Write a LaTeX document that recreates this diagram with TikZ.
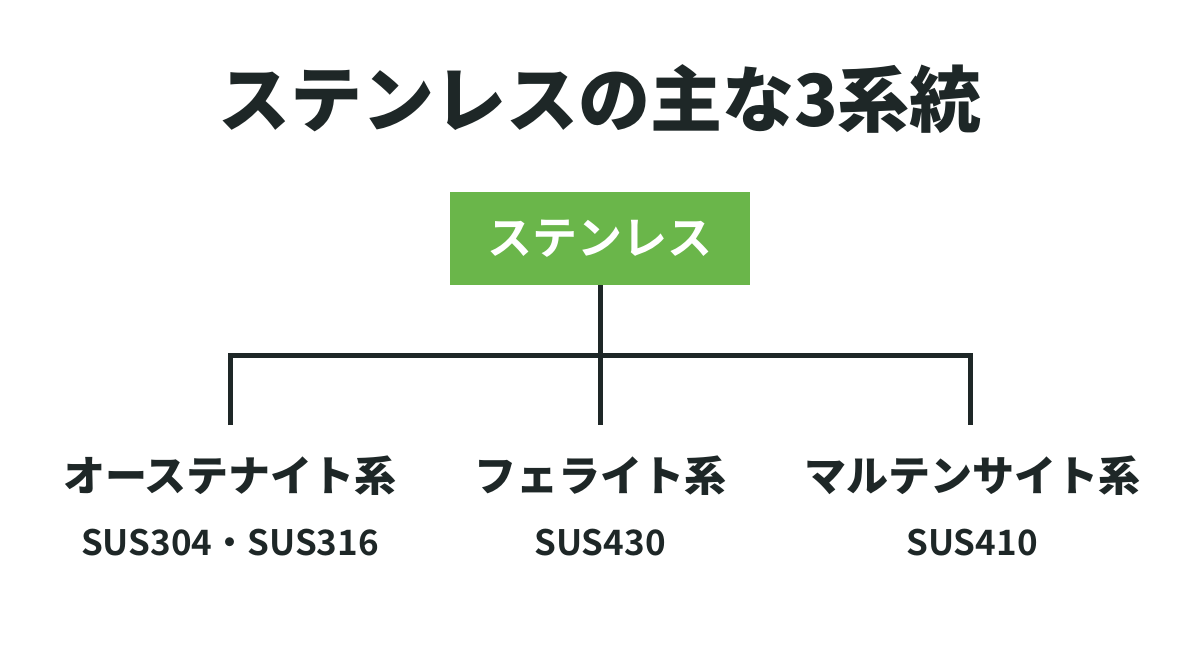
\documentclass[tikz,border=0pt]{standalone}
\usepackage{fontspec}
\setmainfont{Noto Sans CJK JP}[BoldFont={* Bold}]
\newfontfamily\jpb{Noto Sans CJK JP Black}
\newfontfamily\jpm{Noto Sans CJK JP Bold}
\definecolor{boxgreen}{HTML}{6AB64A}
\definecolor{ink}{HTML}{1E2727}
\begin{document}
\begin{tikzpicture}[x=1pt,y=-1pt,
  title/.style={font=\jpb\fontsize{72}{80}\selectfont, text=ink, inner sep=0pt},
  rootbox/.style={fill=boxgreen, minimum width=300pt, minimum height=93pt, inner sep=0pt, text=white, font=\jpm\fontsize{45}{50}\selectfont},
  catlabel/.style={font=\jpb\fontsize{42}{48}\selectfont, text=ink, inner sep=0pt},
  sublabel/.style={font=\jpm\fontsize{35}{42}\selectfont, text=ink, inner sep=0pt},
  conn/.style={draw=ink, line width=5pt}]
\useasboundingbox (0,0) rectangle (1200,669);
\fill[white] (0,0) rectangle (1200,669);
\node[title] (t) at (600,99) {ステンレスの主な3系統};
\node[rootbox] (root) at (600,238.5) {ステンレス};
\coordinate (j) at (600,355);
\coordinate (jl) at (230,355);
\coordinate (jr) at (970,355);
\coordinate (el) at (230,425);
\coordinate (em) at (600,425);
\coordinate (er) at (970,425);
\node[catlabel] (a) at (230,476) {オーステナイト系};
\node[catlabel] (f) at (600,476) {フェライト系};
\node[catlabel] (m) at (972,476) {マルテンサイト系};
\node[sublabel] (as) at (230,543) {SUS304・SUS316};
\node[sublabel] (fs) at (600,543) {SUS430};
\node[sublabel] (ms) at (972,543) {SUS410};
\draw[conn] (root.south) -- (em);
\draw[conn, line cap=butt] (el) -- (jl) -- (jr) -- (er);
\end{tikzpicture}
\end{document}
